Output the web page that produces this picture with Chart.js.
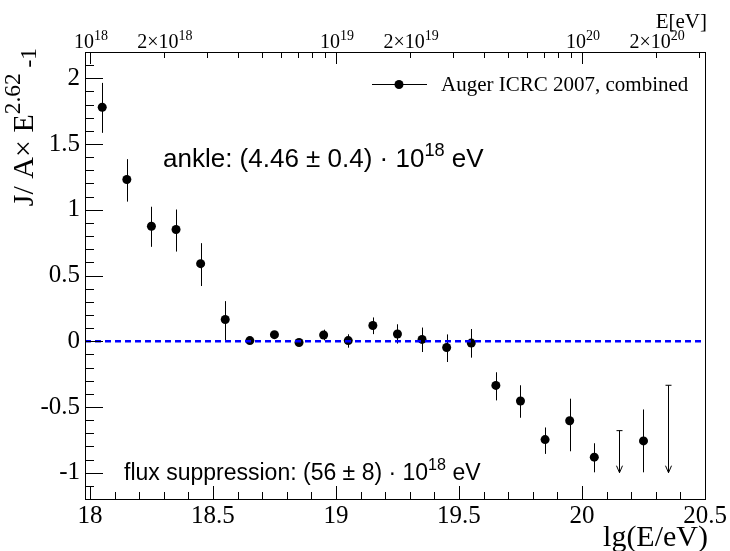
<!DOCTYPE html>
<html>
<head>
<meta charset="utf-8">
<script src="https://cdn.jsdelivr.net/npm/chart.js@4.4.0/dist/chart.umd.min.js"></script>
<style>
html, body { margin: 0; padding: 0; background: #fff; }
canvas { display: block; }
</style>
</head>
<body>
<canvas id="chart" width="730" height="551"></canvas>
<script>
// bin centres lg(E/eV) of the measured points
const lgE = [18.05, 18.15, 18.25, 18.35, 18.45, 18.55, 18.65, 18.75, 18.85, 18.95, 19.05,
             19.15, 19.25, 19.35, 19.45, 19.55, 19.65, 19.75, 19.85, 19.95, 20.05, 20.25];
// J / (A x E^-2.62) - 1
const vals = [1.78, 1.23, 0.875, 0.85, 0.59, 0.165, 0.005, 0.05, -0.01, 0.047, 0.005,
              0.12, 0.055, 0.014, -0.048, -0.014, -0.336, -0.455, -0.748, -0.605, -0.882, -0.758];
const errUp = [0.185, 0.155, 0.148, 0.152, 0.156, 0.14, 0.02, 0.02, 0.02, 0.041, 0.048,
               0.061, 0.074, 0.09, 0.1, 0.107, 0.1, 0.12, 0.092, 0.168, 0.106, 0.239];
const errDown = [0.195, 0.168, 0.157, 0.168, 0.17, 0.165, 0.02, 0.02, 0.02, 0.04, 0.054,
                 0.066, 0.073, 0.096, 0.11, 0.111, 0.114, 0.127, 0.109, 0.232, 0.115, 0.239];

// upper limits (arrows)
const limLgE = [20.15, 20.35];
const limTop = [-0.68, -0.335];
const limEnd = [-1.0, -1.0];

// reference line at zero
const refX = [17.98, 20.5];
const refY = [0, 0];

// axis ticks
const xTicks = [18, 18.5, 19, 19.5, 20, 20.5];
const yTicks = [-1, -0.5, 0, 0.5, 1, 1.5, 2];
const topDecades = [18, 19, 20];
const topLabelMant = ['', '2\u00d7', '', '2\u00d7', '', '2\u00d7'];
const topLabelExp = ['18', '18', '19', '19', '20', '20'];
const topLabelLg = [18, 18 + Math.log10(2), 19, 19 + Math.log10(2), 20, 20 + Math.log10(2)];

const serif = '"Liberation Serif", "Times New Roman", serif';
const sans = '"Liberation Sans", Arial, sans-serif';

function drawRich(ctx, parts, x, y, align, size, family, supScale) {
  const sc = supScale || 0.7;
  let w = 0;
  parts.forEach(p => {
    ctx.font = (p[1] ? size * sc : size) + 'px ' + family;
    w += ctx.measureText(p[0]).width;
  });
  let cx = align === 'center' ? x - w / 2 : align === 'right' ? x - w : x;
  ctx.textAlign = 'left';
  ctx.textBaseline = 'alphabetic';
  parts.forEach(p => {
    const s = p[1] ? size * sc : size;
    ctx.font = s + 'px ' + family;
    const dy = p[1] === 'sup' ? -size * 0.42 : p[1] === 'sub' ? size * 0.1 : 0;
    ctx.fillText(p[0], cx, y + dy);
    cx += ctx.measureText(p[0]).width;
  });
}

const extras = {
  id: 'extras',
  beforeDatasetsDraw(chart) {
    const { ctx, scales: { x, y } } = chart;
    ctx.save();
    ctx.strokeStyle = '#000';
    ctx.lineWidth = 1;
    // error bars
    lgE.forEach((e, i) => {
      const px = Math.round(x.getPixelForValue(e)) + 0.5;
      ctx.beginPath();
      ctx.moveTo(px, y.getPixelForValue(vals[i] + errUp[i]));
      ctx.lineTo(px, y.getPixelForValue(vals[i] - errDown[i]));
      ctx.stroke();
    });
    // upper limits
    limLgE.forEach((e, i) => {
      const px = Math.round(x.getPixelForValue(e)) + 0.5;
      const t = y.getPixelForValue(limTop[i]);
      const b = y.getPixelForValue(limEnd[i]);
      ctx.beginPath();
      ctx.moveTo(px, t); ctx.lineTo(px, b);
      ctx.moveTo(px - 3, t); ctx.lineTo(px + 3, t);
      ctx.moveTo(px - 3, b - 7); ctx.lineTo(px, b); ctx.lineTo(px + 3, b - 7);
      ctx.stroke();
    });
    ctx.restore();
  },
  afterDraw(chart) {
    const { ctx, chartArea: a, scales: { x, y } } = chart;
    ctx.save();
    ctx.strokeStyle = '#000';
    ctx.fillStyle = '#000';
    ctx.lineWidth = 1;
    // frame
    ctx.strokeRect(Math.round(a.left) + 0.5, Math.round(a.top) + 0.5,
                   Math.round(a.right - a.left), Math.round(a.bottom - a.top));
    ctx.beginPath();
    // bottom ticks
    for (let k = 0; k <= 25; k++) {
      const v = 18 + k * 0.1;
      const px = Math.round(x.getPixelForValue(v)) + 0.5;
      const len = k % 5 === 0 ? 13 : 7;
      ctx.moveTo(px, a.bottom); ctx.lineTo(px, a.bottom - len);
    }
    // left ticks
    for (let k = -12; k <= 22; k++) {
      const v = k / 10;
      const py = Math.round(y.getPixelForValue(v)) + 0.5;
      const len = k % 5 === 0 ? 18 : 9;
      ctx.moveTo(a.left, py); ctx.lineTo(a.left + len, py);
    }
    // top log ticks
    topDecades.forEach(d => {
      for (let m = 1; m <= 9; m++) {
        const v = d + Math.log10(m);
        if (v < x.min || v > x.max) continue;
        const px = Math.round(x.getPixelForValue(v)) + 0.5;
        const len = m === 1 ? 12 : 6;
        ctx.moveTo(px, a.top); ctx.lineTo(px, a.top + len);
      }
    });
    ctx.stroke();

    // top labels
    topLabelLg.forEach((v, i) => {
      const parts = [];
      parts.push([topLabelMant[i] + '10', '']);
      parts.push([topLabelExp[i], 'sup']);
      drawRich(ctx, parts, x.getPixelForValue(v) + 1, 48, 'center', 20, serif);
    });

    // axis titles
    drawRich(ctx, [['E[eV]', '']], 707, 28, 'right', 21, serif);
    drawRich(ctx, [['lg(E/eV)', '']], 708, 546, 'right', 30, serif);
    ctx.save();
    ctx.translate(33, 48);
    ctx.rotate(-Math.PI / 2);
    drawRich(ctx, [['J/ A\u00d7 E', ''], ['2.62', 'sup'], [' -1', 'sub']], 0, 0, 'right', 30, serif, 0.78);
    ctx.restore();

    // annotations
    drawRich(ctx, [['ankle: (4.46 \u00b1 0.4) \u00b7 10', ''], ['18', 'sup'], [' eV', '']], 163, 167, 'left', 26, sans);
    drawRich(ctx, [['flux suppression: (56 \u00b1 8) \u00b7 10', ''], ['18', 'sup'], [' eV', '']], 124, 480, 'left', 23, sans);

    // legend
    ctx.beginPath();
    ctx.moveTo(372, 84.5); ctx.lineTo(427, 84.5);
    ctx.stroke();
    ctx.beginPath();
    ctx.arc(399, 84.5, 4.5, 0, Math.PI * 2);
    ctx.fill();
    drawRich(ctx, [['Auger ICRC 2007, combined', '']], 441, 91, 'left', 21, serif);
    ctx.restore();
  }
};

const points = lgE.map((e, i) => ({ x: e, y: vals[i] }));
const zeroLine = refX.map((e, i) => ({ x: e, y: refY[i] }));

const canvas = document.getElementById('chart').getContext('2d');
const chart = new Chart(canvas, {
  type: 'scatter',
  data: {
    datasets: [
      {
        label: 'zero',
        type: 'line',
        data: zeroLine,
        borderColor: '#0000ff',
        borderWidth: 2.5,
        borderDash: [6, 4],
        pointRadius: 0,
        fill: false
      },
      {
        label: 'Auger ICRC 2007, combined',
        data: points,
        pointRadius: 4.5,
        pointBackgroundColor: '#000',
        pointBorderColor: '#000',
        pointBorderWidth: 0
      }
    ]
  },
  options: {
    responsive: false,
    animation: false,
    devicePixelRatio: 1,
    layout: { padding: { top: 52, right: 25, left: 0, bottom: 0 } },
    plugins: { legend: { display: false }, tooltip: { enabled: false } },
    scales: {
      x: {
        type: 'linear',
        min: 17.98,
        max: 20.5,
        afterBuildTicks: axis => { axis.ticks = xTicks.map(v => ({ value: v })); },
        afterFit: s => { s.height = 52; },
        grid: { display: false, drawTicks: false },
        border: { display: false },
        ticks: {
          color: '#000',
          font: { family: serif, size: 25 },
          padding: 2,
          maxRotation: 0,
          autoSkip: false,
          callback: v => String(v)
        }
      },
      y: {
        min: -1.2,
        max: 2.2,
        afterBuildTicks: axis => { axis.ticks = yTicks.map(v => ({ value: v })); },
        afterFit: s => { s.width = 85; },
        grid: { display: false, drawTicks: false },
        border: { display: false },
        ticks: {
          color: '#000',
          font: { family: serif, size: 25 },
          padding: 5,
          callback: v => String(v)
        }
      }
    }
  },
  plugins: [extras]
});
</script>
</body>
</html>
